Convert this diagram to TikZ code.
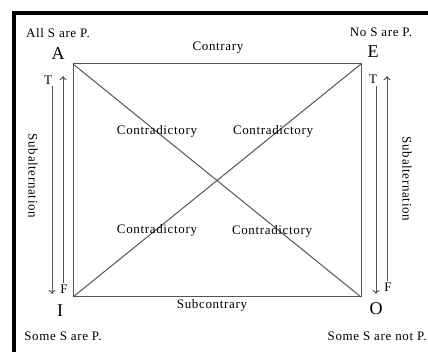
\documentclass[tikz,border=0pt]{standalone}
\usepackage{fontspec}
\setmainfont{Liberation Serif}[LetterSpace=5]
\newfontfamily\bigfont{Liberation Serif}
\usetikzlibrary{arrows.meta}
\definecolor{ln}{HTML}{555555}
\tikzset{
  txt/.style={inner sep=0pt, font=\fontsize{13}{15}\selectfont},
  big/.style={inner sep=0pt, font=\bigfont\fontsize{18}{20}\selectfont},
  sq/.style={draw=ln, line width=1pt},
  arr/.style={draw=ln, line width=1pt, -{To[length=4pt,width=7pt]}},
}
\begin{document}
\begin{tikzpicture}[x=1pt,y=-1pt]
\useasboundingbox (0,0) rectangle (428,352);
\fill[white] (0,0) rectangle (428,352);
\draw[line width=4pt,black] (440,13) -- (14,13) -- (14,370);
% corners
\coordinate (a) at (73,64);
\coordinate (e) at (361,64);
\coordinate (i) at (73,297);
\coordinate (o) at (361,297);
\draw[sq] (a) -- (e) -- (o) -- (i) -- cycle;
\draw[sq] (a) -- (o);
\draw[sq] (e) -- (i);
% labels
\node[txt] (allsp) at (58,33) {All S are P.};
\node[big] (A) at (58,54) {A};
\node[txt] (contrary) at (218,48) {Contrary};
\node[txt] (nosp) at (381,32) {No S are P.};
\node[big] (E) at (373,52) {E};
\node[big] (I) at (60,311) {I};
\node[txt] (somesp) at (63,336) {Some S are P.};
\node[big] (O) at (376,309) {O};
\node[txt,anchor=east] (somesnp) at (427,336) {Some S are not P.};
\node[txt] (subcontrary) at (212,305) {Subcontrary};
\node[txt] (c1) at (157,131) {Contradictory};
\node[txt] (c2) at (273,131) {Contradictory};
\node[txt] (c3) at (157,230) {Contradictory};
\node[txt] (c4) at (272,231) {Contradictory};
\node[txt,rotate=-90] (subL) at (33,176) {Subalternation};
\node[txt,rotate=-90] (subR) at (407,179) {Subalternation};
% left arrows
\node[txt] (tL) at (48,80) {T};
\node[txt] (fL) at (64,289) {F};
\coordinate (dLs) at (52,86);
\coordinate (dLe) at (52,294);
\coordinate (uLs) at (63,283);
\coordinate (uLe) at (63,76);
\draw[arr] (dLs) -- (dLe);
\draw[arr] (uLs) -- (uLe);
% right arrows
\node[txt] (tR) at (373,79) {T};
\node[txt] (fR) at (388,287) {F};
\coordinate (dRs) at (376,86);
\coordinate (dRe) at (376,294);
\coordinate (uRs) at (387,281);
\coordinate (uRe) at (387,76);
\draw[arr] (dRs) -- (dRe);
\draw[arr] (uRs) -- (uRe);
\end{tikzpicture}
\end{document}
